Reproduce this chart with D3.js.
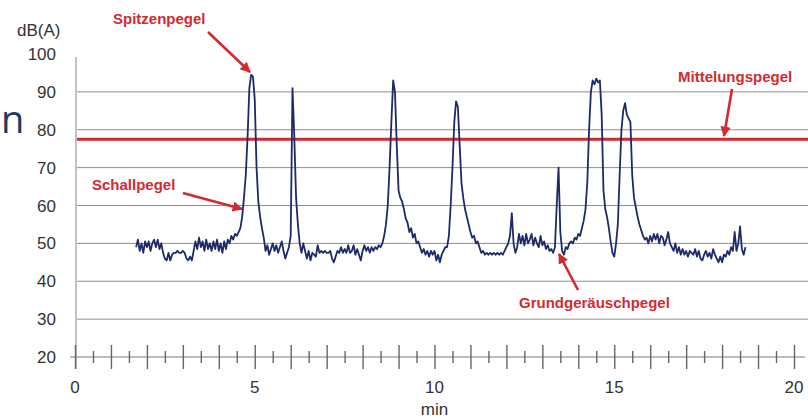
<!DOCTYPE html>
<html>
<head>
<meta charset="utf-8">
<script src="https://cdn.jsdelivr.net/npm/d3@7"></script>
<style>
  html, body { margin: 0; padding: 0; background: #fff; }
  svg { display: block; }
</style>
</head>
<body>
<svg id="chart" width="808" height="418"></svg>
<script>
// ---------------- DATA ----------------
const yTicks = [20, 30, 40, 50, 60, 70, 80, 90, 100];
const gridValues = [30, 40, 50, 60, 70, 80, 90];
const xTickLabels = [0, 5, 10, 15, 20];
const xMajorTicks = d3.range(0, 21, 1);
const xMinorTicks = d3.range(0.5, 20, 1);
const averageLevel = 77.5;        // Mittelungspegel
const sampleStart = 1.70;         // min
const sampleStep = 0.05;          // min
// sound level, dB(A), one reading every 0.05 min from 1.70 min
const levels = [
  49, 51, 48, 50, 47.5, 50.5,                                                        // 1.70-1.95
  49, 50.5, 48, 50, 51, 49, 51, 48.5, 50, 47.5, 46, 45.5, 47.5, 45.5, 47, 47.5, 47.5, 48, 47.5, 47.5, // 2
  48, 47.5, 46, 45.5, 46.5, 45.5, 48, 50.5, 48.5, 51.5, 49, 50.5, 48, 51, 48.5, 50, 48, 50.5, 48.5, 51, // 3
  48, 50, 47.5, 50.5, 48.5, 51, 50, 52, 51, 52.5, 52, 53, 54, 57, 62, 68, 78, 91, 94.5, 94,             // 4
  88, 70, 61, 57, 54, 51.5, 48, 49.5, 47, 48.5, 50, 48, 49.5, 47.5, 49, 50.5, 48, 46, 47.5, 49,         // 5
  52, 91, 78, 62, 55, 50, 47.5, 50, 48, 46, 48, 45.5, 47.5, 47, 46.5, 49.5, 47.5, 48, 47.5, 48,         // 6
  47.5, 47.5, 48, 46, 45, 46.5, 48, 47.5, 49, 47.5, 48.5, 47.5, 49.5, 47.5, 48, 49.5, 47, 48.5, 47, 45.5, // 7
  48, 49.5, 48, 49, 47.5, 49, 48, 49, 48.5, 49.5, 49, 50, 52, 55, 60, 70, 82, 93, 90, 76,               // 8
  64, 62, 61, 59, 56.5, 55.5, 53, 54, 51.5, 52.5, 50, 50.5, 49, 47.5, 48.5, 47, 48, 46.5, 48, 47,       // 9
  48, 45.5, 47, 45, 47, 48, 49, 49, 52, 60, 70, 82, 87.5, 86, 76, 66, 62, 59, 57, 55,                   // 10
  53, 51.5, 52, 50, 50.5, 49, 47.5, 48, 47, 47.5, 47, 47.5, 47, 47.5, 47, 47.5, 47, 47.5, 47, 48,       // 11
  49, 50, 52, 58, 50, 47.5, 49, 52.5, 50, 52, 49.5, 52.5, 50, 51, 52.5, 49.5, 51.5, 50, 49, 52,         // 12
  49.5, 50.5, 48.5, 49.5, 48, 48.5, 47.5, 49, 60, 70, 53, 48, 47, 49, 48.5, 50, 50.5, 50, 51.5, 51,     // 13
  52.5, 52, 54, 56, 59, 66, 80, 90, 93, 92, 93.5, 92.5, 93, 84, 64, 59, 57, 54, 50.5, 47.5,             // 14
  46.5, 50, 55, 68, 80, 85, 87, 84, 83, 82, 68, 62, 59.5, 57, 55, 53.5, 52, 51, 51.5, 50,               // 15
  52, 50.5, 52.5, 51, 52.5, 50, 52, 51.5, 49.5, 51, 53, 50, 49, 48, 50, 47.5, 49, 47, 48.5, 47,         // 16
  48, 46.5, 48, 47.5, 47, 48.5, 46.5, 48, 46, 45.5, 47, 48, 46.5, 47.5, 46, 48.5, 47, 46, 45, 46.5,     // 17
  45, 47, 46.5, 48, 47, 49, 48, 53, 48, 50, 54.5, 48.5, 47, 49                                          // 18.00-18.65
];
const annotations = [
  { text: "Spitzenpegel", tx: 113, ty: 24, from: [208, 32], to: [250, 72] },
  { text: "Schallpegel", tx: 92, ty: 190, from: [183, 193], to: [242, 209] },
  { text: "Mittelungspegel", tx: 678, ty: 82, from: [732, 89], to: [724, 136] },
  { text: "Grundgeräuschpegel", tx: 519, ty: 308, from: [578, 290], to: [559, 254] }
];

// ---------------- CHART ----------------
const svg = d3.select("#chart");
const x = d3.scaleLinear().domain([0, 20]).range([75, 794]);
const y = d3.scaleLinear().domain([20, 100]).range([357, 54]);
const xRight = 808;
const red = "#d22a2f";
const font = "'Liberation Sans', Arial, Helvetica, sans-serif";

// slide text at left edge
svg.append("text").attr("x", 1).attr("y", 133)
  .attr("font-family", "'Open Sans', 'Noto Sans', sans-serif")
  .attr("font-size", 38).attr("fill", "#1f3864").text("n");

// gridlines
svg.append("g").selectAll("line").data(gridValues).join("line")
  .attr("x1", x(0) + 2).attr("x2", xRight)
  .attr("y1", d => y(d)).attr("y2", d => y(d))
  .attr("stroke", "#8e8e8e").attr("stroke-width", 1);

// y axis line
svg.append("line").attr("x1", x(0) + 1).attr("x2", x(0) + 1)
  .attr("y1", 57).attr("y2", y(20) + 12)
  .attr("stroke", "#9a9a9a").attr("stroke-width", 1.2);

// y tick labels
svg.append("g").selectAll("text").data(yTicks).join("text")
  .attr("x", 56).attr("y", d => y(d) + 6)
  .attr("text-anchor", "end")
  .attr("font-family", font).attr("font-size", 17).attr("fill", "#333")
  .text(d => d);

svg.append("text").attr("x", 17).attr("y", 36)
  .attr("font-family", font).attr("font-size", 17).attr("fill", "#333")
  .text("dB(A)");

// x axis: line + ticks crossing the line (drawn with d3 axes up and down)
const y0 = y(20);
function tickAxis(values, size) {
  const down = d3.axisBottom(x).tickValues(values).tickSize(size).tickFormat("");
  const up = d3.axisTop(x).tickValues(values).tickSize(size).tickFormat("");
  [down, up].forEach(ax => {
    const g = svg.append("g").attr("transform", `translate(0,${y0})`).call(ax);
    g.select(".domain").remove();
    g.selectAll("line").attr("stroke", "#666").attr("stroke-width", 1.4);
  });
}
svg.append("line").attr("x1", 70).attr("x2", 805).attr("y1", y0).attr("y2", y0)
  .attr("stroke", "#7a7a7a").attr("stroke-width", 1.2);
tickAxis(xMajorTicks, 12);
tickAxis(xMinorTicks, 6);

svg.append("g").selectAll("text").data(xTickLabels).join("text")
  .attr("x", d => x(d)).attr("y", 393)
  .attr("text-anchor", "middle")
  .attr("font-family", font).attr("font-size", 17).attr("fill", "#333")
  .text(d => d);
svg.append("text").attr("x", x(10)).attr("y", 415)
  .attr("text-anchor", "middle")
  .attr("font-family", font).attr("font-size", 17).attr("fill", "#333")
  .text("min");

// average level line
svg.append("line").attr("x1", x(0) + 2).attr("x2", xRight)
  .attr("y1", y(averageLevel)).attr("y2", y(averageLevel))
  .attr("stroke", red).attr("stroke-width", 3);

// sound level trace
const series = levels.map((v, i) => ({ t: sampleStart + i * sampleStep, v }));
svg.append("path").datum(series)
  .attr("fill", "none").attr("stroke", "#1e2a68").attr("stroke-width", 1.8)
  .attr("stroke-linejoin", "round")
  .attr("d", d3.line().x(d => x(d.t)).y(d => y(d.v)));

// annotations
const defs = svg.append("defs");
defs.append("marker").attr("id", "arrow").attr("viewBox", "0 0 10 10")
  .attr("refX", 9).attr("refY", 5).attr("markerWidth", 4).attr("markerHeight", 4)
  .attr("orient", "auto")
  .append("path").attr("d", "M0,0 L10,5 L0,10 Z").attr("fill", red);

const ann = svg.append("g");
annotations.forEach(a => {
  ann.append("text").attr("x", a.tx).attr("y", a.ty)
    .attr("font-family", font).attr("font-weight", "bold").attr("font-size", 15)
    .attr("fill", red).text(a.text);
  ann.append("line")
    .attr("x1", a.from[0]).attr("y1", a.from[1]).attr("x2", a.to[0]).attr("y2", a.to[1])
    .attr("stroke", red).attr("stroke-width", 2.6).attr("marker-end", "url(#arrow)");
});
</script>
</body>
</html>
